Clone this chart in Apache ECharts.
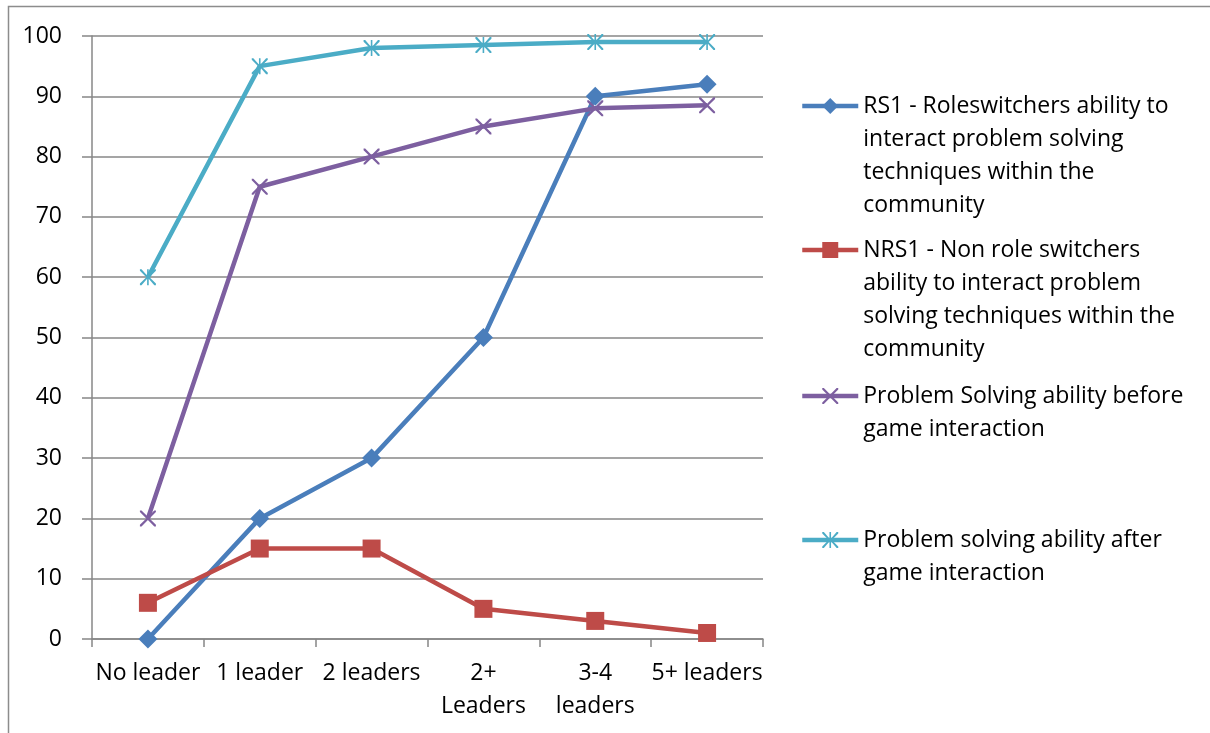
<!DOCTYPE html>
<html>
<head>
<meta charset="utf-8">
<script src="https://cdn.jsdelivr.net/npm/echarts@6/dist/echarts.min.js"></script>
<style>
html,body{margin:0;padding:0;background:#fff;}
#chart{width:1210px;height:733px;}
</style>
</head>
<body>
<div id="chart"></div>
<script>
const categories = ['No leader', '1 leader', '2 leaders', '2+\nLeaders', '3-4\nleaders', '5+ leaders'];
const yTicks = [0, 10, 20, 30, 40, 50, 60, 70, 80, 90, 100];

const rs1Lines = ['RS1 - Roleswitchers ability to', 'interact problem solving', 'techniques within the', 'community'];
const nrs1Lines = ['NRS1 - Non role switchers', 'ability to interact problem', 'solving techniques within the', 'community'];
const beforeLines = ['Problem Solving ability before', 'game interaction'];
const afterLines = ['Problem solving ability after', 'game interaction'];

const rs1 = [0, 20, 30, 50, 90, 92];
const nrs1 = [6, 15, 15, 5, 3, 1];
const before = [20, 75, 80, 85, 88, 88.5];
const after = [60, 95, 98, 98.5, 99, 99];

const FONT = 'Open Sans';
const FS = 23;
const LH = 33;

const xPath = 'path://M0,0 L2,0 L10,8 L18,0 L20,0 L20,2 L12,10 L20,18 L20,20 L18,20 L10,12 L2,20 L0,20 L0,18 L8,10 L0,2 Z';
const starPath = 'path://M9,0 L11,0 L11,8 L18,0 L20,0 L20,2 L12,10 L20,18 L20,20 L18,20 L11,12 L11,20 L9,20 L9,12 L2,20 L0,20 L0,18 L8,10 L0,2 L0,0 L2,0 L9,8 Z';

const seriesDefs = [
  { lines: rs1Lines, data: rs1, color: '#4a7ebb', symbol: 'diamond', size: 19, iconCenter: 106 },
  { lines: nrs1Lines, data: nrs1, color: '#be4b48', symbol: 'rect', size: 18, iconCenter: 250 },
  { lines: beforeLines, data: before, color: '#7d5fa0', symbol: xPath, size: 16, iconCenter: 396 },
  { lines: afterLines, data: after, color: '#4bacc6', symbol: starPath, size: 16, iconCenter: 540 }
];

const nameOf = d => d.lines.join(' ');
const textByName = {};
seriesDefs.forEach(d => {
  // leading blank lines keep the first text line level with the legend icon
  const pad = new Array(d.lines.length - 1).fill(' ');
  textByName[nameOf(d)] = pad.concat(d.lines).join('\n');
});

const legends = seriesDefs.map(d => {
  const n = d.lines.length;
  const boxH = (2 * n - 1) * LH;
  return {
    data: [nameOf(d)],
    left: 800,
    top: d.iconCenter - boxH / 2,
    orient: 'vertical',
    padding: 0,
    itemWidth: 56,
    itemHeight: 20,
    itemGap: 0,
    selectedMode: false,
    lineStyle: { width: 4.5 },
    formatter: name => textByName[name],
    textStyle: { fontFamily: FONT, fontSize: FS, color: '#000', lineHeight: LH }
  };
});

const chart = echarts.init(document.getElementById('chart'), null, { renderer: 'canvas' });
chart.setOption({
  backgroundColor: '#fff',
  animation: false,
  textStyle: { fontFamily: FONT },
  graphic: [{
    type: 'rect',
    shape: { x: 8.5, y: 6.5, width: 1400, height: 900 },
    style: { fill: 'none', stroke: '#8c8c8c', lineWidth: 1.5 },
    silent: true, z: -10
  }],
  legend: legends,
  grid: { left: 92, right: 447, top: 36, bottom: 94, containLabel: false },
  xAxis: {
    type: 'category',
    data: categories,
    boundaryGap: true,
    axisLine: { lineStyle: { color: '#878787', width: 1.5 } },
    axisTick: { show: true, length: 8, lineStyle: { color: '#878787', width: 1.5 } },
    axisLabel: { fontFamily: FONT, fontSize: FS, color: '#000', lineHeight: LH, margin: 18, interval: 0 },
    splitLine: { show: false }
  },
  yAxis: {
    type: 'value',
    min: yTicks[0], max: yTicks[yTicks.length - 1], interval: 10,
    axisLine: { show: true, lineStyle: { color: '#878787', width: 1.5 } },
    axisTick: { show: true, length: 10, lineStyle: { color: '#878787', width: 1.5 } },
    axisLabel: { fontFamily: FONT, fontSize: FS, color: '#000', margin: 30 },
    splitLine: { show: true, lineStyle: { color: '#878787', width: 1.5 } }
  },
  series: seriesDefs.map(d => ({
    name: nameOf(d),
    type: 'line',
    data: d.data,
    symbol: d.symbol,
    symbolSize: d.size,
    showAllSymbol: true,
    lineStyle: { color: d.color, width: 4.5 },
    itemStyle: { color: d.color },
    emphasis: { disabled: true }
  }))
});
</script>
</body>
</html>
